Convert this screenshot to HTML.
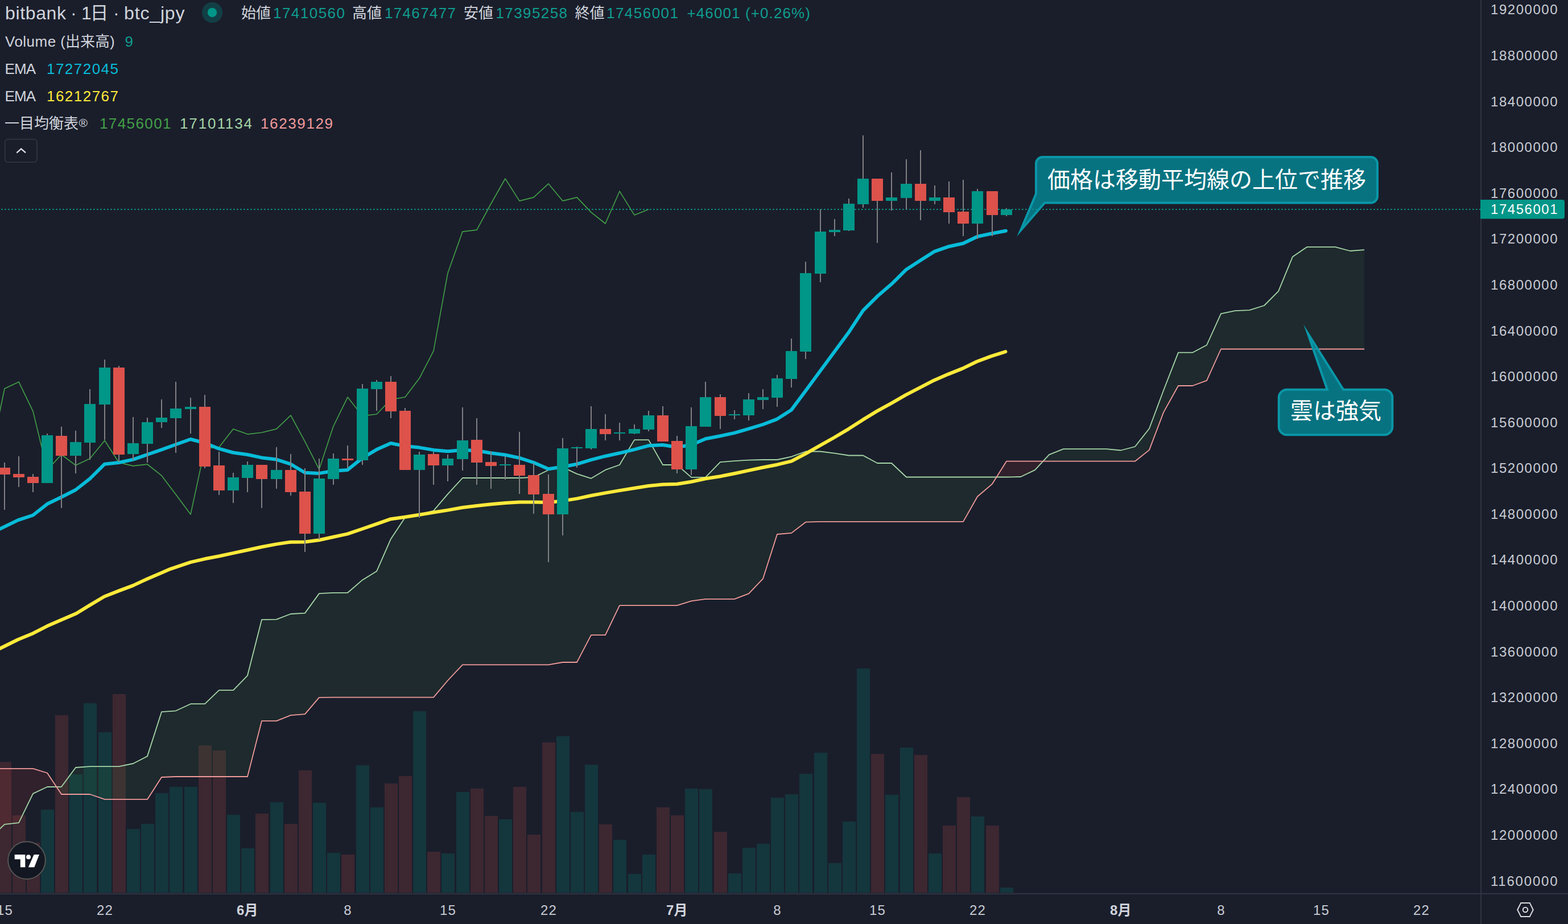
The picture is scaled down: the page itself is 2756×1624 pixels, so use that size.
<!DOCTYPE html>
<html lang="ja"><head><meta charset="utf-8"><title>bitbank btc_jpy chart</title>
<style>html,body{margin:0;padding:0;background:#1a1e2b;}body{width:2756px;height:1624px;overflow:hidden;font-family:"Liberation Sans","Noto Sans CJK JP",sans-serif;}svg{display:block}text{font-family:"Liberation Sans","Noto Sans CJK JP",sans-serif;}</style></head>
<body>
<svg width="2756" height="1624" viewBox="0 0 2756 1624" font-family="Liberation Sans, Noto Sans CJK JP, sans-serif"><rect x="0" y="0" width="2756" height="1624" fill="#1a1e2b"/>
<clipPath id="cc"><rect x="0" y="0" width="2602" height="1569"/></clipPath>
<g clip-path="url(#cc)">
<rect x="-3" y="1339" width="23" height="230" fill="rgba(221,82,75,0.18)"/>
<rect x="22" y="1433" width="23" height="136" fill="rgba(221,82,75,0.18)"/>
<rect x="47" y="1481" width="23" height="88" fill="rgba(221,82,75,0.18)"/>
<rect x="72" y="1423" width="23" height="146" fill="rgba(0,150,136,0.2)"/>
<rect x="97" y="1257" width="23" height="312" fill="rgba(221,82,75,0.18)"/>
<rect x="122" y="1361" width="23" height="208" fill="rgba(0,150,136,0.2)"/>
<rect x="147" y="1236" width="23" height="333" fill="rgba(0,150,136,0.2)"/>
<rect x="173" y="1287" width="23" height="282" fill="rgba(0,150,136,0.2)"/>
<rect x="198" y="1220" width="23" height="349" fill="rgba(221,82,75,0.18)"/>
<rect x="223" y="1457" width="23" height="112" fill="rgba(0,150,136,0.2)"/>
<rect x="248" y="1448" width="23" height="121" fill="rgba(0,150,136,0.2)"/>
<rect x="273" y="1394" width="23" height="175" fill="rgba(0,150,136,0.2)"/>
<rect x="298" y="1383" width="23" height="186" fill="rgba(0,150,136,0.2)"/>
<rect x="324" y="1383" width="23" height="186" fill="rgba(0,150,136,0.2)"/>
<rect x="349" y="1310" width="23" height="259" fill="rgba(221,82,75,0.18)"/>
<rect x="374" y="1319" width="23" height="250" fill="rgba(221,82,75,0.18)"/>
<rect x="399" y="1432" width="23" height="137" fill="rgba(0,150,136,0.2)"/>
<rect x="424" y="1491" width="23" height="78" fill="rgba(0,150,136,0.2)"/>
<rect x="449" y="1430" width="23" height="139" fill="rgba(221,82,75,0.18)"/>
<rect x="475" y="1410" width="23" height="159" fill="rgba(0,150,136,0.2)"/>
<rect x="500" y="1448" width="23" height="121" fill="rgba(221,82,75,0.18)"/>
<rect x="525" y="1354" width="23" height="215" fill="rgba(221,82,75,0.18)"/>
<rect x="550" y="1411" width="23" height="158" fill="rgba(0,150,136,0.2)"/>
<rect x="575" y="1499" width="23" height="70" fill="rgba(0,150,136,0.2)"/>
<rect x="600" y="1502" width="23" height="67" fill="rgba(221,82,75,0.18)"/>
<rect x="626" y="1345" width="23" height="224" fill="rgba(0,150,136,0.2)"/>
<rect x="651" y="1419" width="23" height="150" fill="rgba(0,150,136,0.2)"/>
<rect x="676" y="1377" width="23" height="192" fill="rgba(221,82,75,0.18)"/>
<rect x="701" y="1364" width="23" height="205" fill="rgba(221,82,75,0.18)"/>
<rect x="726" y="1250" width="23" height="319" fill="rgba(0,150,136,0.2)"/>
<rect x="751" y="1497" width="23" height="72" fill="rgba(221,82,75,0.18)"/>
<rect x="776" y="1500" width="23" height="69" fill="rgba(0,150,136,0.2)"/>
<rect x="802" y="1392" width="23" height="177" fill="rgba(0,150,136,0.2)"/>
<rect x="827" y="1386" width="23" height="183" fill="rgba(221,82,75,0.18)"/>
<rect x="852" y="1434" width="23" height="135" fill="rgba(221,82,75,0.18)"/>
<rect x="877" y="1440" width="23" height="129" fill="rgba(0,150,136,0.2)"/>
<rect x="902" y="1383" width="23" height="186" fill="rgba(221,82,75,0.18)"/>
<rect x="927" y="1467" width="23" height="102" fill="rgba(221,82,75,0.18)"/>
<rect x="953" y="1305" width="23" height="264" fill="rgba(221,82,75,0.18)"/>
<rect x="978" y="1294" width="23" height="275" fill="rgba(0,150,136,0.2)"/>
<rect x="1003" y="1427" width="23" height="142" fill="rgba(0,150,136,0.2)"/>
<rect x="1028" y="1344" width="23" height="225" fill="rgba(0,150,136,0.2)"/>
<rect x="1053" y="1449" width="23" height="120" fill="rgba(221,82,75,0.18)"/>
<rect x="1078" y="1476" width="23" height="93" fill="rgba(0,150,136,0.2)"/>
<rect x="1104" y="1536" width="23" height="33" fill="rgba(0,150,136,0.2)"/>
<rect x="1129" y="1502" width="23" height="67" fill="rgba(0,150,136,0.2)"/>
<rect x="1154" y="1419" width="23" height="150" fill="rgba(221,82,75,0.18)"/>
<rect x="1179" y="1433" width="23" height="136" fill="rgba(221,82,75,0.18)"/>
<rect x="1204" y="1386" width="23" height="183" fill="rgba(0,150,136,0.2)"/>
<rect x="1229" y="1387" width="23" height="182" fill="rgba(0,150,136,0.2)"/>
<rect x="1255" y="1462" width="23" height="107" fill="rgba(221,82,75,0.18)"/>
<rect x="1280" y="1535" width="23" height="34" fill="rgba(0,150,136,0.2)"/>
<rect x="1305" y="1490" width="23" height="79" fill="rgba(0,150,136,0.2)"/>
<rect x="1330" y="1483" width="23" height="86" fill="rgba(0,150,136,0.2)"/>
<rect x="1355" y="1402" width="23" height="167" fill="rgba(0,150,136,0.2)"/>
<rect x="1380" y="1396" width="23" height="173" fill="rgba(0,150,136,0.2)"/>
<rect x="1405" y="1360" width="23" height="209" fill="rgba(0,150,136,0.2)"/>
<rect x="1431" y="1323" width="23" height="246" fill="rgba(0,150,136,0.2)"/>
<rect x="1456" y="1517" width="23" height="52" fill="rgba(0,150,136,0.2)"/>
<rect x="1481" y="1444" width="23" height="125" fill="rgba(0,150,136,0.2)"/>
<rect x="1506" y="1175" width="23" height="394" fill="rgba(0,150,136,0.2)"/>
<rect x="1531" y="1325" width="23" height="244" fill="rgba(221,82,75,0.18)"/>
<rect x="1556" y="1397" width="23" height="172" fill="rgba(0,150,136,0.2)"/>
<rect x="1582" y="1314" width="23" height="255" fill="rgba(0,150,136,0.2)"/>
<rect x="1607" y="1327" width="23" height="242" fill="rgba(221,82,75,0.18)"/>
<rect x="1632" y="1500" width="23" height="69" fill="rgba(0,150,136,0.2)"/>
<rect x="1657" y="1451" width="23" height="118" fill="rgba(221,82,75,0.18)"/>
<rect x="1682" y="1401" width="23" height="168" fill="rgba(221,82,75,0.18)"/>
<rect x="1707" y="1435" width="23" height="134" fill="rgba(0,150,136,0.2)"/>
<rect x="1733" y="1451" width="23" height="118" fill="rgba(221,82,75,0.18)"/>
<rect x="1758" y="1560" width="23" height="9" fill="rgba(0,150,136,0.2)"/>
<path d="M-18,1473.9 L8,1448.8 L33,1446.1 L58,1394.9 L83,1383 L99.2,1382.8 L99.2,1382.8 L83,1358.5 L58,1350.9 L33,1350.9 L8,1350.9 L-18,1350.9Z" fill="rgba(244,67,54,0.1)"/>
<path d="M99.2,1382.8 L108,1382.8 L133,1349 L158,1347.2 L184,1347.2 L209,1347.2 L234,1342 L259,1329.1 L284,1251.2 L309,1249.3 L335,1237.2 L360,1237.2 L385,1213.2 L410,1213.2 L435,1187.3 L460,1089.2 L486,1088.7 L511,1079 L536,1077.6 L561,1043.1 L586,1041.8 L611,1041.8 L637,1019.4 L662,1004.1 L687,947.2 L712,909.4 L737,904 L762,897.6 L787,868.4 L813,840 L838,840 L863,840 L888,840 L913,840 L938,838.9 L964,826 L989,821.1 L1014,832.9 L1039,840.8 L1064,825.9 L1089,817 L1115,773.1 L1140,773.1 L1165,817 L1190,817 L1215,838.9 L1240,838.9 L1266,812.1 L1291,810.2 L1316,808.6 L1341,808 L1366,808 L1391,802.7 L1416,793.5 L1442,793.5 L1467,796.7 L1492,800.5 L1517,800.5 L1542,814 L1567,814 L1593,838.5 L1618,838.5 L1643,838.5 L1668,838.5 L1693,838.5 L1718,838.5 L1744,838.5 L1751.6,838.5 L1751.6,838.5 L1744,850.6 L1718,872.8 L1693,916.9 L1668,916.9 L1643,916.9 L1618,916.9 L1593,916.9 L1567,916.9 L1542,916.9 L1517,916.9 L1492,916.9 L1467,916.9 L1442,916.9 L1416,917.7 L1391,936.9 L1366,939 L1341,1017.2 L1316,1043.4 L1291,1052.9 L1266,1052.9 L1240,1052.9 L1215,1056.4 L1190,1064.2 L1165,1064.2 L1140,1064.2 L1115,1064.2 L1089,1064.2 L1064,1116.2 L1039,1116.2 L1014,1164 L989,1164 L964,1168.3 L938,1168.3 L913,1168.3 L888,1168.3 L863,1168.3 L838,1168.3 L813,1168.3 L787,1196 L762,1225.7 L737,1225.7 L712,1225.7 L687,1225.7 L662,1225.7 L637,1225.7 L611,1225.7 L586,1225.7 L561,1225.8 L536,1255.2 L511,1257.1 L486,1267.1 L460,1267.1 L435,1365 L410,1365 L385,1365 L360,1365 L335,1365 L309,1365 L284,1366 L259,1404.9 L234,1404.9 L209,1404.9 L184,1404.9 L158,1396 L133,1396 L108,1396 L99.2,1382.8Z" fill="rgba(67,160,71,0.1)"/>
<path d="M1751.6,838.5 L1769,838.5 L1794,838 L1819,826.1 L1833.2,810.7 L1833.2,810.7 L1819,810.7 L1794,810.7 L1769,810.7 L1751.6,838.5Z" fill="rgba(244,67,54,0.1)"/>
<path d="M1833.2,810.7 L1844,799.1 L1869,789.1 L1895,789.1 L1920,789.1 L1945,789.1 L1970,791.5 L1995,785 L2020,753.2 L2045,686.3 L2071,619.7 L2096,619.7 L2121,606.5 L2146,551.3 L2171,546.1 L2196,545.1 L2222,537 L2247,511.9 L2272,451.2 L2297,434.2 L2322,434.2 L2347,434.2 L2373,441 L2398,439.1 L2398,613.5 L2373,613.5 L2347,613.5 L2322,613.5 L2297,613.5 L2272,613.5 L2247,613.5 L2222,613.5 L2196,613.5 L2171,613.5 L2146,613.5 L2121,668.8 L2096,678 L2071,678 L2045,724.9 L2020,790.9 L1995,810.7 L1970,810.7 L1945,810.7 L1920,810.7 L1895,810.7 L1869,810.7 L1844,810.7 L1833.2,810.7Z" fill="rgba(67,160,71,0.1)"/>
<path d="M-18,1473.9 L8,1448.8 L33,1446.1 L58,1394.9 L83,1383 L108,1382.8 L133,1349 L158,1347.2 L184,1347.2 L209,1347.2 L234,1342 L259,1329.1 L284,1251.2 L309,1249.3 L335,1237.2 L360,1237.2 L385,1213.2 L410,1213.2 L435,1187.3 L460,1089.2 L486,1088.7 L511,1079 L536,1077.6 L561,1043.1 L586,1041.8 L611,1041.8 L637,1019.4 L662,1004.1 L687,947.2 L712,909.4 L737,904 L762,897.6 L787,868.4 L813,840 L838,840 L863,840 L888,840 L913,840 L938,838.9 L964,826 L989,821.1 L1014,832.9 L1039,840.8 L1064,825.9 L1089,817 L1115,773.1 L1140,773.1 L1165,817 L1190,817 L1215,838.9 L1240,838.9 L1266,812.1 L1291,810.2 L1316,808.6 L1341,808 L1366,808 L1391,802.7 L1416,793.5 L1442,793.5 L1467,796.7 L1492,800.5 L1517,800.5 L1542,814 L1567,814 L1593,838.5 L1618,838.5 L1643,838.5 L1668,838.5 L1693,838.5 L1718,838.5 L1744,838.5 L1769,838.5 L1794,838 L1819,826.1 L1844,799.1 L1869,789.1 L1895,789.1 L1920,789.1 L1945,789.1 L1970,791.5 L1995,785 L2020,753.2 L2045,686.3 L2071,619.7 L2096,619.7 L2121,606.5 L2146,551.3 L2171,546.1 L2196,545.1 L2222,537 L2247,511.9 L2272,451.2 L2297,434.2 L2322,434.2 L2347,434.2 L2373,441 L2398,439.1" fill="none" stroke="#a5d6a7" stroke-width="1.8" stroke-linejoin="round" />
<path d="M-18,1350.9 L8,1350.9 L33,1350.9 L58,1350.9 L83,1358.5 L108,1396 L133,1396 L158,1396 L184,1404.9 L209,1404.9 L234,1404.9 L259,1404.9 L284,1366 L309,1365 L335,1365 L360,1365 L385,1365 L410,1365 L435,1365 L460,1267.1 L486,1267.1 L511,1257.1 L536,1255.2 L561,1225.8 L586,1225.7 L611,1225.7 L637,1225.7 L662,1225.7 L687,1225.7 L712,1225.7 L737,1225.7 L762,1225.7 L787,1196 L813,1168.3 L838,1168.3 L863,1168.3 L888,1168.3 L913,1168.3 L938,1168.3 L964,1168.3 L989,1164 L1014,1164 L1039,1116.2 L1064,1116.2 L1089,1064.2 L1115,1064.2 L1140,1064.2 L1165,1064.2 L1190,1064.2 L1215,1056.4 L1240,1052.9 L1266,1052.9 L1291,1052.9 L1316,1043.4 L1341,1017.2 L1366,939 L1391,936.9 L1416,917.7 L1442,916.9 L1467,916.9 L1492,916.9 L1517,916.9 L1542,916.9 L1567,916.9 L1593,916.9 L1618,916.9 L1643,916.9 L1668,916.9 L1693,916.9 L1718,872.8 L1744,850.6 L1769,810.7 L1794,810.7 L1819,810.7 L1844,810.7 L1869,810.7 L1895,810.7 L1920,810.7 L1945,810.7 L1970,810.7 L1995,810.7 L2020,790.9 L2045,724.9 L2071,678 L2096,678 L2121,668.8 L2146,613.5 L2171,613.5 L2196,613.5 L2222,613.5 L2247,613.5 L2272,613.5 L2297,613.5 L2322,613.5 L2347,613.5 L2373,613.5 L2398,613.5" fill="none" stroke="#f19a9a" stroke-width="1.8" stroke-linejoin="round" />
<path d="M-18,809 L8,683 L33,671.2 L58,722.9 L83,825.9 L108,799 L133,817.8 L158,806 L184,774.2 L209,813 L234,818.9 L259,816 L284,835.9 L309,869.1 L335,904.1 L360,788.2 L385,786 L410,753.9 L435,763.1 L460,760.2 L486,753.9 L511,730 L536,776.1 L561,824.9 L586,749.1 L611,698.1 L637,730.9 L662,728 L687,702.1 L712,698 L737,665.1 L762,616.9 L787,479.9 L813,407.1 L838,404.1 L863,358 L888,314 L913,353.1 L938,346.9 L964,322.9 L989,353.1 L1014,346.9 L1039,373.1 L1064,393 L1089,336.2 L1115,377.9 L1140,368" fill="none" stroke="#43a047" stroke-width="1.6" stroke-linejoin="round" />
<path d="M-10.8,934.3 L0,929.5 L31.8,914.1 L58,905.5 L83,885.8 L107.8,873.7 L132.9,861 L158,841.3 L183.9,815.7 L209,813 L234,807.6 L258.8,799 L283.9,790.3 L309,781.2 L334.9,772 L359.9,778.5 L385,788.7 L409.8,795.5 L434.9,799 L460,804.4 L485.8,807.6 L510.9,815.7 L536,830.8 L560.8,831.9 L585.9,827.8 L610.9,825.9 L637,804.9 L662.1,790.1 L686.9,779 L711.9,784.1 L737,786.6 L762.1,790.9 L787.2,793.3 L813,790.9 L837.8,792 L862.9,796.3 L888,799.5 L913.1,804.9 L938.1,813 L964,824.3 L988.8,820.5 L1013.9,815.7 L1039,808.1 L1064.1,801.7 L1089.1,796.3 L1114.7,790.1 L1139.8,783.3 L1164.9,782 L1190,786 L1215,782 L1240.1,771.2 L1265.9,766.3 L1291,760.9 L1316,753.6 L1341.1,746 L1365.9,736.6 L1391,720.4 L1416.1,686.7 L1441.1,652.7 L1466.2,618.8 L1491.3,584.8 L1516.9,545.9 L1542,520.8 L1567,499.3 L1592.9,473.7 L1618,457.5 L1642.8,441.8 L1667.9,433.2 L1693,427.8 L1718,415.7 L1743.9,410.3 L1767.9,405.7" fill="none" stroke="#08bcd9" stroke-width="6" stroke-linejoin="round" stroke-linecap="round"/>
<path d="M-8.1,1143.4 L0,1139.7 L31.8,1124 L58,1113.2 L83,1100.3 L107.8,1089.5 L134,1078.2 L158.3,1063.4 L183.3,1048.5 L208.4,1038.6 L233.8,1029.1 L258.8,1017.5 L283.9,1006.7 L299.3,1000.1 L334.9,988.2 L359.9,982.3 L385,977.5 L409.8,972.1 L434.9,966.7 L460,961.3 L485.8,956.4 L510.9,952.7 L536,952.4 L560.8,949.2 L585.9,943.8 L610.9,938.4 L637,929.5 L662.1,920.8 L686.9,912.2 L711.9,908.7 L737,904.7 L762.1,900.6 L787.2,896.6 L813,892 L837.8,889 L862.9,886.3 L888,883.9 L913.1,882.6 L938.1,882.6 L964,883.1 L988.8,880.4 L1013.9,876.4 L1039,871 L1064.1,866.4 L1089.1,862.1 L1114.7,858 L1139.8,854 L1164.9,851.6 L1190,850.7 L1215,846.7 L1240.1,841.3 L1265.9,837.2 L1291,832.3 L1316,826.9 L1341.1,821.5 L1365.9,816.7 L1391,810.7 L1416.1,797.3 L1441.1,783.2 L1466.2,769 L1491.3,754.1 L1516.4,737.9 L1541.4,722.6 L1566.5,708.8 L1591.6,694.3 L1616.7,681.3 L1641.7,668.4 L1666.8,657.6 L1691.9,647.6 L1716.9,635.5 L1742,626.1 L1767.4,618.2" fill="none" stroke="#ffea3a" stroke-width="6" stroke-linejoin="round" stroke-linecap="round"/>
<path d="M0,368 H2603" stroke="#0d9a8b" stroke-width="2" stroke-dasharray="2.4 3.6" stroke-dashoffset="-2.2" fill="none"/>
<rect x="7" y="813" width="2" height="83" fill="#808083"/>
<rect x="-2" y="822" width="20" height="12" fill="#dd524b"/>
<rect x="32" y="802" width="2" height="54" fill="#808083"/>
<rect x="23" y="833" width="20" height="6" fill="#dd524b"/>
<rect x="57" y="833" width="2" height="32" fill="#808083"/>
<rect x="48" y="838" width="20" height="11" fill="#dd524b"/>
<rect x="82" y="762" width="2" height="87" fill="#808083"/>
<rect x="73" y="765" width="20" height="84" fill="#009688"/>
<rect x="107" y="750" width="2" height="143" fill="#808083"/>
<rect x="98" y="766" width="20" height="35" fill="#dd524b"/>
<rect x="132" y="757" width="2" height="75" fill="#808083"/>
<rect x="123" y="777" width="20" height="24" fill="#009688"/>
<rect x="157" y="684" width="2" height="124" fill="#808083"/>
<rect x="148" y="710" width="20" height="68" fill="#009688"/>
<rect x="183" y="632" width="2" height="141" fill="#808083"/>
<rect x="174" y="646" width="20" height="65" fill="#009688"/>
<rect x="208" y="643" width="2" height="169" fill="#808083"/>
<rect x="199" y="646" width="20" height="153" fill="#dd524b"/>
<rect x="233" y="733" width="2" height="76" fill="#808083"/>
<rect x="224" y="779" width="20" height="19" fill="#009688"/>
<rect x="258" y="734" width="2" height="79" fill="#808083"/>
<rect x="249" y="742" width="20" height="38" fill="#009688"/>
<rect x="283" y="702" width="2" height="50" fill="#808083"/>
<rect x="274" y="734" width="20" height="8" fill="#009688"/>
<rect x="308" y="671" width="2" height="125" fill="#808083"/>
<rect x="299" y="718" width="20" height="17" fill="#009688"/>
<rect x="334" y="699" width="2" height="63" fill="#808083"/>
<rect x="325" y="715" width="20" height="4" fill="#009688"/>
<rect x="359" y="694" width="2" height="129" fill="#808083"/>
<rect x="350" y="715" width="20" height="105" fill="#dd524b"/>
<rect x="384" y="794" width="2" height="76" fill="#808083"/>
<rect x="375" y="818" width="20" height="44" fill="#dd524b"/>
<rect x="409" y="831" width="2" height="53" fill="#808083"/>
<rect x="400" y="839" width="20" height="23" fill="#009688"/>
<rect x="434" y="811" width="2" height="54" fill="#808083"/>
<rect x="425" y="817" width="20" height="23" fill="#009688"/>
<rect x="459" y="817" width="2" height="76" fill="#808083"/>
<rect x="450" y="817" width="20" height="25" fill="#dd524b"/>
<rect x="485" y="786" width="2" height="73" fill="#808083"/>
<rect x="476" y="826" width="20" height="16" fill="#009688"/>
<rect x="510" y="798" width="2" height="73" fill="#808083"/>
<rect x="501" y="826" width="20" height="39" fill="#dd524b"/>
<rect x="535" y="823" width="2" height="147" fill="#808083"/>
<rect x="526" y="864" width="20" height="74" fill="#dd524b"/>
<rect x="560" y="806" width="2" height="142" fill="#808083"/>
<rect x="551" y="841" width="20" height="97" fill="#009688"/>
<rect x="585" y="797" width="2" height="55" fill="#808083"/>
<rect x="576" y="806" width="20" height="36" fill="#009688"/>
<rect x="610" y="783" width="2" height="40" fill="#808083"/>
<rect x="601" y="806" width="20" height="3" fill="#dd524b"/>
<rect x="636" y="675" width="2" height="142" fill="#808083"/>
<rect x="627" y="683" width="20" height="126" fill="#009688"/>
<rect x="661" y="668" width="2" height="54" fill="#808083"/>
<rect x="652" y="671" width="20" height="13" fill="#009688"/>
<rect x="686" y="661" width="2" height="74" fill="#808083"/>
<rect x="677" y="671" width="20" height="52" fill="#dd524b"/>
<rect x="711" y="717" width="2" height="109" fill="#808083"/>
<rect x="702" y="722" width="20" height="104" fill="#dd524b"/>
<rect x="736" y="794" width="2" height="116" fill="#808083"/>
<rect x="727" y="799" width="20" height="27" fill="#009688"/>
<rect x="761" y="794" width="2" height="58" fill="#808083"/>
<rect x="752" y="798" width="20" height="20" fill="#dd524b"/>
<rect x="786" y="799" width="2" height="47" fill="#808083"/>
<rect x="777" y="806" width="20" height="12" fill="#009688"/>
<rect x="812" y="716" width="2" height="111" fill="#808083"/>
<rect x="803" y="774" width="20" height="33" fill="#009688"/>
<rect x="837" y="735" width="2" height="117" fill="#808083"/>
<rect x="828" y="773" width="20" height="40" fill="#dd524b"/>
<rect x="862" y="793" width="2" height="66" fill="#808083"/>
<rect x="853" y="812" width="20" height="7" fill="#dd524b"/>
<rect x="887" y="802" width="2" height="41" fill="#808083"/>
<rect x="878" y="816" width="20" height="2" fill="#009688"/>
<rect x="912" y="759" width="2" height="109" fill="#808083"/>
<rect x="903" y="817" width="20" height="19" fill="#dd524b"/>
<rect x="937" y="814" width="2" height="89" fill="#808083"/>
<rect x="928" y="835" width="20" height="34" fill="#dd524b"/>
<rect x="963" y="834" width="2" height="154" fill="#808083"/>
<rect x="954" y="868" width="20" height="36" fill="#dd524b"/>
<rect x="988" y="770" width="2" height="171" fill="#808083"/>
<rect x="979" y="788" width="20" height="116" fill="#009688"/>
<rect x="1013" y="785" width="2" height="37" fill="#808083"/>
<rect x="1004" y="786" width="20" height="2" fill="#009688"/>
<rect x="1038" y="714" width="2" height="76" fill="#808083"/>
<rect x="1029" y="754" width="20" height="34" fill="#009688"/>
<rect x="1063" y="728" width="2" height="46" fill="#808083"/>
<rect x="1054" y="754" width="20" height="9" fill="#dd524b"/>
<rect x="1088" y="743" width="2" height="31" fill="#808083"/>
<rect x="1079" y="760" width="20" height="2" fill="#009688"/>
<rect x="1114" y="746" width="2" height="17" fill="#808083"/>
<rect x="1105" y="754" width="20" height="8" fill="#009688"/>
<rect x="1139" y="722" width="2" height="36" fill="#808083"/>
<rect x="1130" y="730" width="20" height="25" fill="#009688"/>
<rect x="1164" y="714" width="2" height="62" fill="#808083"/>
<rect x="1155" y="730" width="20" height="46" fill="#dd524b"/>
<rect x="1189" y="766" width="2" height="66" fill="#808083"/>
<rect x="1180" y="775" width="20" height="50" fill="#dd524b"/>
<rect x="1214" y="716" width="2" height="119" fill="#808083"/>
<rect x="1205" y="749" width="20" height="76" fill="#009688"/>
<rect x="1239" y="671" width="2" height="79" fill="#808083"/>
<rect x="1230" y="698" width="20" height="52" fill="#009688"/>
<rect x="1265" y="693" width="2" height="61" fill="#808083"/>
<rect x="1256" y="698" width="20" height="33" fill="#dd524b"/>
<rect x="1290" y="721" width="2" height="16" fill="#808083"/>
<rect x="1281" y="728" width="20" height="2" fill="#009688"/>
<rect x="1315" y="691" width="2" height="48" fill="#808083"/>
<rect x="1306" y="702" width="20" height="28" fill="#009688"/>
<rect x="1340" y="684" width="2" height="35" fill="#808083"/>
<rect x="1331" y="698" width="20" height="5" fill="#009688"/>
<rect x="1365" y="659" width="2" height="56" fill="#808083"/>
<rect x="1356" y="665" width="20" height="34" fill="#009688"/>
<rect x="1390" y="595" width="2" height="86" fill="#808083"/>
<rect x="1381" y="617" width="20" height="49" fill="#009688"/>
<rect x="1415" y="460" width="2" height="171" fill="#808083"/>
<rect x="1406" y="480" width="20" height="138" fill="#009688"/>
<rect x="1441" y="368" width="2" height="128" fill="#808083"/>
<rect x="1432" y="407" width="20" height="74" fill="#009688"/>
<rect x="1466" y="385" width="2" height="30" fill="#808083"/>
<rect x="1457" y="404" width="20" height="4" fill="#009688"/>
<rect x="1491" y="349" width="2" height="57" fill="#808083"/>
<rect x="1482" y="358" width="20" height="47" fill="#009688"/>
<rect x="1516" y="238" width="2" height="127" fill="#808083"/>
<rect x="1507" y="314" width="20" height="45" fill="#009688"/>
<rect x="1541" y="314" width="2" height="113" fill="#808083"/>
<rect x="1532" y="314" width="20" height="39" fill="#dd524b"/>
<rect x="1566" y="303" width="2" height="67" fill="#808083"/>
<rect x="1557" y="347" width="20" height="6" fill="#009688"/>
<rect x="1592" y="280" width="2" height="88" fill="#808083"/>
<rect x="1583" y="323" width="20" height="25" fill="#009688"/>
<rect x="1617" y="264" width="2" height="123" fill="#808083"/>
<rect x="1608" y="323" width="20" height="30" fill="#dd524b"/>
<rect x="1642" y="326" width="2" height="33" fill="#808083"/>
<rect x="1633" y="347" width="20" height="6" fill="#009688"/>
<rect x="1667" y="319" width="2" height="74" fill="#808083"/>
<rect x="1658" y="347" width="20" height="26" fill="#dd524b"/>
<rect x="1692" y="316" width="2" height="99" fill="#808083"/>
<rect x="1683" y="372" width="20" height="21" fill="#dd524b"/>
<rect x="1717" y="332" width="2" height="88" fill="#808083"/>
<rect x="1708" y="336" width="20" height="57" fill="#009688"/>
<rect x="1743" y="336" width="2" height="79" fill="#808083"/>
<rect x="1734" y="336" width="20" height="42" fill="#dd524b"/>
<rect x="1768" y="366" width="2" height="14" fill="#808083"/>
<rect x="1759" y="368" width="20" height="10" fill="#009688"/>
</g>
<path d="M1832.5,276 H2409.5 A11.5,11.5 0 0 1 2421,287.5 V345.0 A11.5,11.5 0 0 1 2409.5,356.5 H1836.3 L1793.9,405.1 L1821,340.6 V287.5 A11.5,11.5 0 0 1 1832.5,276 Z" fill="rgba(0,151,167,0.7)" stroke="#0a97a8" stroke-width="4" stroke-linejoin="miter" stroke-miterlimit="12"/>
<text x="1841" y="329.5" font-size="40" fill="#fff">価格は移動平均線の上位で推移</text>
<path d="M2261.8,684.8 H2332.9 L2298.6,585.7 L2361.2,684.8 H2433.3 A14,14 0 0 1 2447.3,698.8 V750.2 A14,14 0 0 1 2433.3,764.2 H2261.8 A14,14 0 0 1 2247.8,750.2 V698.8 A14,14 0 0 1 2261.8,684.8 Z" fill="rgba(0,151,167,0.7)" stroke="#0a97a8" stroke-width="4" stroke-linejoin="miter" stroke-miterlimit="12"/>
<text x="2268" y="736.3" font-size="40" fill="#fff">雲は強気</text>
<rect x="2602" y="0" width="2" height="1624" fill="#2f3341"/>
<rect x="0" y="1569.7" width="2756" height="2.3" fill="#2f3341"/>
<text x="2620" y="25.3" font-size="24" fill="#c9ccd3" textLength="117.5" lengthAdjust="spacing">19200000</text>
<text x="2620" y="105.9" font-size="24" fill="#c9ccd3" textLength="117.5" lengthAdjust="spacing">18800000</text>
<text x="2620" y="186.5" font-size="24" fill="#c9ccd3" textLength="117.5" lengthAdjust="spacing">18400000</text>
<text x="2620" y="267.1" font-size="24" fill="#c9ccd3" textLength="117.5" lengthAdjust="spacing">18000000</text>
<text x="2620" y="347.7" font-size="24" fill="#c9ccd3" textLength="117.5" lengthAdjust="spacing">17600000</text>
<text x="2620" y="428.3" font-size="24" fill="#c9ccd3" textLength="117.5" lengthAdjust="spacing">17200000</text>
<text x="2620" y="508.9" font-size="24" fill="#c9ccd3" textLength="117.5" lengthAdjust="spacing">16800000</text>
<text x="2620" y="589.5" font-size="24" fill="#c9ccd3" textLength="117.5" lengthAdjust="spacing">16400000</text>
<text x="2620" y="670.1" font-size="24" fill="#c9ccd3" textLength="117.5" lengthAdjust="spacing">16000000</text>
<text x="2620" y="750.7" font-size="24" fill="#c9ccd3" textLength="117.5" lengthAdjust="spacing">15600000</text>
<text x="2620" y="831.3" font-size="24" fill="#c9ccd3" textLength="117.5" lengthAdjust="spacing">15200000</text>
<text x="2620" y="911.8" font-size="24" fill="#c9ccd3" textLength="117.5" lengthAdjust="spacing">14800000</text>
<text x="2620" y="992.4" font-size="24" fill="#c9ccd3" textLength="117.5" lengthAdjust="spacing">14400000</text>
<text x="2620" y="1073" font-size="24" fill="#c9ccd3" textLength="117.5" lengthAdjust="spacing">14000000</text>
<text x="2620" y="1153.6" font-size="24" fill="#c9ccd3" textLength="117.5" lengthAdjust="spacing">13600000</text>
<text x="2620" y="1234.2" font-size="24" fill="#c9ccd3" textLength="117.5" lengthAdjust="spacing">13200000</text>
<text x="2620" y="1314.8" font-size="24" fill="#c9ccd3" textLength="117.5" lengthAdjust="spacing">12800000</text>
<text x="2620" y="1395.4" font-size="24" fill="#c9ccd3" textLength="117.5" lengthAdjust="spacing">12400000</text>
<text x="2620" y="1476" font-size="24" fill="#c9ccd3" textLength="117.5" lengthAdjust="spacing">12000000</text>
<text x="2620" y="1556.6" font-size="24" fill="#c9ccd3" textLength="117.5" lengthAdjust="spacing">11600000</text>
<path d="M2602,351 H2746 a4,4 0 0 1 4,4 V380.5 a4,4 0 0 1 -4,4 H2602 Z" fill="#009688"/>
<text x="2620" y="376.1" font-size="24" fill="#fff" textLength="117.5" lengthAdjust="spacing">17456001</text>
<text x="8.6" y="1607.6" font-size="24" fill="#c9ccd3" text-anchor="middle" letter-spacing="1.2">15</text>
<text x="184.6" y="1607.6" font-size="24" fill="#c9ccd3" text-anchor="middle" letter-spacing="1.2">22</text>
<text x="611.6" y="1607.6" font-size="24" fill="#c9ccd3" text-anchor="middle" letter-spacing="1.2">8</text>
<text x="787.6" y="1607.6" font-size="24" fill="#c9ccd3" text-anchor="middle" letter-spacing="1.2">15</text>
<text x="964.6" y="1607.6" font-size="24" fill="#c9ccd3" text-anchor="middle" letter-spacing="1.2">22</text>
<text x="1366.6" y="1607.6" font-size="24" fill="#c9ccd3" text-anchor="middle" letter-spacing="1.2">8</text>
<text x="1542.6" y="1607.6" font-size="24" fill="#c9ccd3" text-anchor="middle" letter-spacing="1.2">15</text>
<text x="1718.6" y="1607.6" font-size="24" fill="#c9ccd3" text-anchor="middle" letter-spacing="1.2">22</text>
<text x="2146.6" y="1607.6" font-size="24" fill="#c9ccd3" text-anchor="middle" letter-spacing="1.2">8</text>
<text x="2322.6" y="1607.6" font-size="24" fill="#c9ccd3" text-anchor="middle" letter-spacing="1.2">15</text>
<text x="2498.6" y="1607.6" font-size="24" fill="#c9ccd3" text-anchor="middle" letter-spacing="1.2">22</text>
<text x="416" y="1607.6" font-size="24" fill="#d1d4dc" font-weight="bold">6</text>
<text x="429.5" y="1607.6" font-size="24" fill="#d1d4dc" font-weight="bold">月</text>
<text x="1171" y="1607.6" font-size="24" fill="#d1d4dc" font-weight="bold">7</text>
<text x="1184.5" y="1607.6" font-size="24" fill="#d1d4dc" font-weight="bold">月</text>
<text x="1951" y="1607.6" font-size="24" fill="#d1d4dc" font-weight="bold">8</text>
<text x="1964.5" y="1607.6" font-size="24" fill="#d1d4dc" font-weight="bold">月</text>
<path d="M2667.2,1599 L2673.3,1586.9 L2688.7,1586.9 L2694.8,1599 L2688.7,1611.1 L2673.3,1611.1Z" fill="none" stroke="#dcdde0" stroke-width="2" stroke-linejoin="miter"/>
<circle cx="2681" cy="1599" r="4.2" fill="none" stroke="#dcdde0" stroke-width="2"/>
<text x="9" y="34" font-size="32" fill="#d1d4dc" textLength="107" lengthAdjust="spacing">bitbank</text>
<text x="124" y="34" font-size="32" fill="#d1d4dc">·</text>
<text x="143" y="34" font-size="32" fill="#d1d4dc">1</text>
<text x="158.5" y="34" font-size="32" fill="#d1d4dc">日</text>
<text x="199" y="34" font-size="32" fill="#d1d4dc">·</text>
<text x="218" y="34" font-size="32" fill="#d1d4dc" textLength="106.5" lengthAdjust="spacing">btc_jpy</text>
<circle cx="373.1" cy="22" r="18" fill="rgba(0,150,136,0.28)"/><circle cx="373" cy="22" r="8.2" fill="#009688"/>
<text x="424" y="32" font-size="26" fill="#d1d4dc">始値</text>
<text x="480" y="32" font-size="26" fill="#0f9d8f" textLength="126" lengthAdjust="spacing">17410560</text>
<text x="619" y="32" font-size="26" fill="#d1d4dc">高値</text>
<text x="676" y="32" font-size="26" fill="#0f9d8f" textLength="125" lengthAdjust="spacing">17467477</text>
<text x="815" y="32" font-size="26" fill="#d1d4dc">安値</text>
<text x="871.5" y="32" font-size="26" fill="#0f9d8f" textLength="125.5" lengthAdjust="spacing">17395258</text>
<text x="1010.5" y="32" font-size="26" fill="#d1d4dc">終値</text>
<text x="1066" y="32" font-size="26" fill="#0f9d8f" textLength="126" lengthAdjust="spacing">17456001</text>
<text x="1207.5" y="32" font-size="26" fill="#0f9d8f" textLength="216.5" lengthAdjust="spacing">+46001 (+0.26%)</text>
<text x="9" y="82" font-size="26" fill="#d1d4dc" textLength="106" lengthAdjust="spacing">Volume (</text>
<text x="115" y="81.5" font-size="26" fill="#d1d4dc">出来高</text>
<text x="193" y="82" font-size="26" fill="#d1d4dc">)</text>
<text x="219.5" y="82" font-size="26" fill="#0f9d8f">9</text>
<text x="8.5" y="130" font-size="26" fill="#d1d4dc" textLength="54.5" lengthAdjust="spacing">EMA</text>
<text x="82" y="130" font-size="26" fill="#08bcd9" textLength="126" lengthAdjust="spacing">17272045</text>
<text x="8.5" y="178" font-size="26" fill="#d1d4dc" textLength="54.5" lengthAdjust="spacing">EMA</text>
<text x="82" y="178" font-size="26" fill="#ffea3a" textLength="126" lengthAdjust="spacing">16212767</text>
<text x="8" y="225.5" font-size="26" fill="#d1d4dc">一目均衡表</text>
<text x="138.5" y="222.8" font-size="21" fill="#d1d4dc">®</text>
<text x="175" y="226" font-size="26" fill="#43a047" textLength="125.5" lengthAdjust="spacing">17456001</text>
<text x="316" y="226" font-size="26" fill="#a5d6a7" textLength="127" lengthAdjust="spacing">17101134</text>
<text x="458" y="226" font-size="26" fill="#f19a9a" textLength="127" lengthAdjust="spacing">16239129</text>
<rect x="8.9" y="244.7" width="56" height="40.4" rx="5" fill="none" stroke="#2e323e" stroke-width="2"/>
<path d="M29.3,268.6 L37.2,261.6 L45,268.4" fill="none" stroke="#dfe0e3" stroke-width="2.3" stroke-linecap="butt" stroke-linejoin="miter"/>
<circle cx="47" cy="1512.1" r="32.9" fill="#131722" stroke="#565654" stroke-width="2"/>
<g fill="#fff"><path d="M25.7,1501.9 H44.3 V1524.3 H35.8 V1510.2 H25.7 Z"/><circle cx="50" cy="1506.3" r="4"/><path d="M59.6,1501.9 H69 L60.3,1524.3 H49.9 Z"/></g></svg>
</body></html>
